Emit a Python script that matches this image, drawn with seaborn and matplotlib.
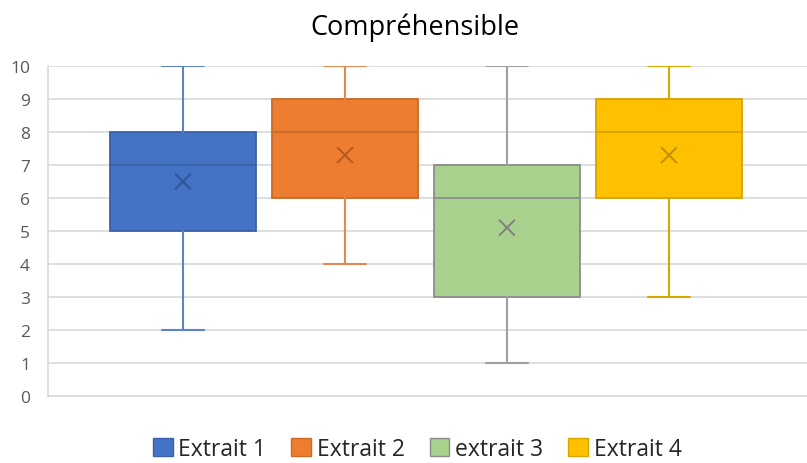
import matplotlib
matplotlib.use("Agg")
import matplotlib.pyplot as plt
from matplotlib.patches import Patch
import seaborn as sns
import pandas as pd

# Five-number summaries and means per extract
labels = ["Extrait 1", "Extrait 2", "extrait 3", "Extrait 4"]
mins = [2, 4, 1, 3]
q1s = [5, 6, 3, 6]
medians = [7, 8, 6, 8]
q3s = [8, 9, 7, 9]
maxs = [10, 10, 10, 10]
means = [6.5, 7.3, 5.1, 7.3]

fills = ["#4472C4", "#ED7D31", "#A9D18E", "#FFC000"]
edges = ["#3A62A8", "#CC6A28", "#8C8C8C", "#D9A300"]
whisk = ["#5B83C9", "#E08A50", "#A0A0A0", "#D9A800"]
marks = ["#2F5597", "#B45A1E", "#7F7F7F", "#BF9000"]

sns.set_theme(style="whitegrid")
plt.rcParams["font.family"] = ["Open Sans", "DejaVu Sans"]

fig = plt.figure(figsize=(8.07, 4.64), dpi=100)
ax = fig.add_axes([48 / 807, 67 / 464, (807 - 48) / 807, 330 / 464])

stats = []
for i, lab in enumerate(labels):
    stats.append(dict(label=lab, whislo=mins[i], q1=q1s[i], med=medians[i],
                      q3=q3s[i], whishi=maxs[i], fliers=[]))

positions = list(range(len(labels)))
for i, st in enumerate(stats):
    ax.bxp([st], positions=[positions[i]], widths=0.9, capwidths=0.26,
           patch_artist=True, showfliers=False, manage_ticks=False,
           boxprops=dict(facecolor=fills[i], edgecolor=edges[i], linewidth=1.3),
           medianprops=dict(color=edges[i], linewidth=1.3),
           whiskerprops=dict(color=whisk[i], linewidth=1.5),
           capprops=dict(color=whisk[i], linewidth=1.5))

mean_df = pd.DataFrame({"pos": positions, "mean": means, "lab": labels})
sns.scatterplot(data=mean_df, x="pos", y="mean", hue="lab", palette=marks,
                marker="x", s=130, linewidth=1.4, legend=False, ax=ax, zorder=5)

ax.set_xlim(-0.833, 3.852)
ax.set_ylim(0, 10)
ax.set_yticks(range(0, 11))
ax.set_xticks([])
ax.set_xlabel("")
ax.set_ylabel("")
ax.grid(axis="y", color="#D9D9D9", linewidth=1.2)
ax.grid(axis="x", visible=False)
ax.set_axisbelow(True)
for side in ["top", "right"]:
    ax.spines[side].set_visible(False)
for side in ["left", "bottom"]:
    ax.spines[side].set_visible(True)
    ax.spines[side].set_color("#D9D9D9")
    ax.spines[side].set_linewidth(1.2)
ax.tick_params(axis="y", labelsize=12.5, colors="#595959", pad=13, length=0)
ax.set_facecolor("white")

fig.text(0.514, 0.94, "Compréhensible", ha="center", va="center",
         fontsize=19.5, color="#000000")

handles = [Patch(facecolor=fills[i], edgecolor=edges[i], label=labels[i])
           for i in range(len(labels))]
fig.legend(handles=handles, loc="center", bbox_to_anchor=(0.517, 0.03),
           ncol=4, frameon=False, fontsize=16.5, handlelength=0.85,
           handleheight=0.85, handletextpad=0.25, columnspacing=1.1)

fig.savefig("out.png", dpi=100, facecolor="white")
